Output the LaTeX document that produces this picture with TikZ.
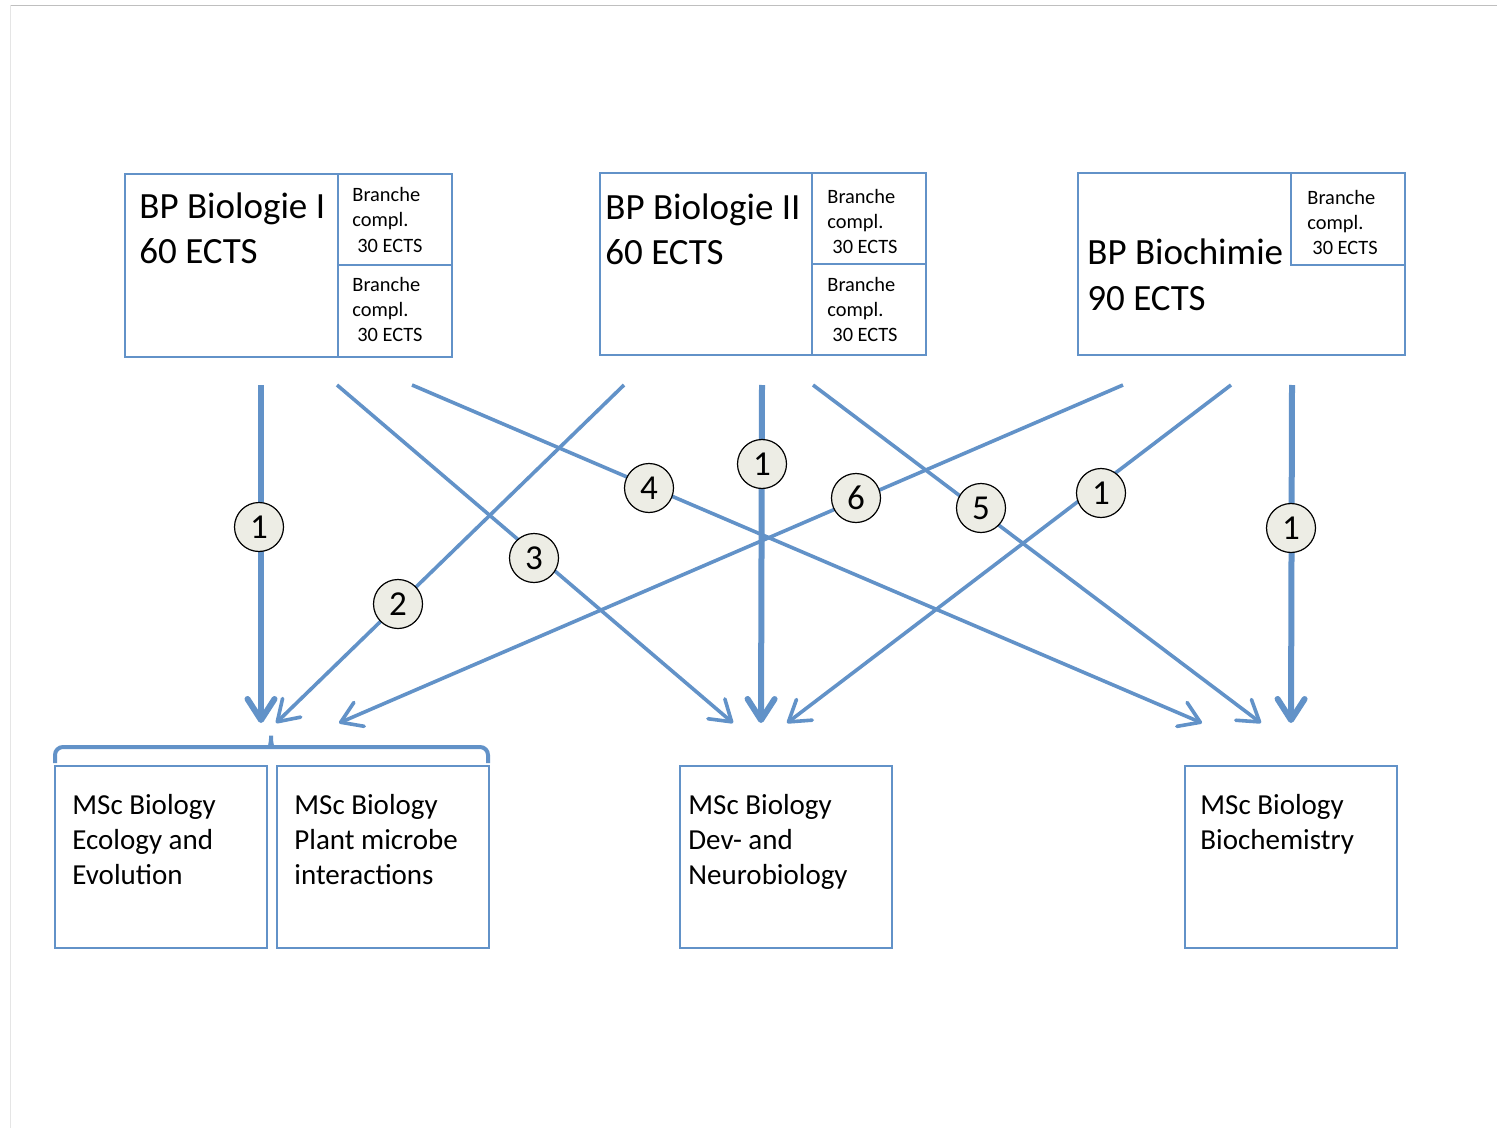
\documentclass[tikz,border=0pt]{standalone}
\usepackage{fontspec}
\setmainfont{Carlito}
\usetikzlibrary{arrows.meta}
\definecolor{lineblue}{RGB}{98,146,200}
\definecolor{circfill}{RGB}{237,237,229}
\begin{document}
\begin{tikzpicture}[x=0.5pt,y=-0.5pt,
  box/.style={draw=lineblue, line width=0.8pt, rectangle, inner sep=0pt, anchor=north west},
  sz/.style 2 args={minimum width=#1*0.5pt, minimum height=#2*0.5pt},
  big/.style={font=\fontsize{18.5}{22}\selectfont, anchor=base west, inner sep=0pt},
  small/.style={font=\fontsize{10.2}{12}\selectfont, anchor=base west, inner sep=0pt},
  msc/.style={font=\fontsize{14.5}{17}\selectfont, anchor=base west, inner sep=0pt},
  num/.style={circle, draw=black, line width=0.6pt, fill=circfill, minimum size=24.5pt, inner sep=0pt, font=\fontsize{17.5}{20}\selectfont},
  thinarrow/.style={draw=lineblue, line width=1.8pt, -{Straight Barb[length=10pt,width=13pt,round]}},
  thickarrow/.style={draw=lineblue, line width=3pt, -{Straight Barb[length=10.5pt,width=13.5pt,round]}},
]
\useasboundingbox (0,0) rectangle (1497,1128);
\fill[white] (0,0) rectangle (1497,1128);
% page frame
\draw[black!25, line width=0.7pt] (10,5.5) -- (1497,5.5);
\draw[black!10, line width=0.7pt] (10.5,5.5) -- (10.5,1128);

% top boxes
\node[box, sz={327}{183}] (b1) at (124,173) {};
\node[box, sz={114}{91}] (b1a) at (337,173) {};
\node[box, sz={114}{92}] (b1b) at (337,264) {};
\node[big] (b1t1) at (139,219) {BP Biologie I};
\node[big] (b1t2) at (139,264) {60 ECTS};
\node[small] (b1a1) at (352,202) {Branche};
\node[small] (b1a2) at (352,227) {compl.};
\node[small] (b1a3) at (357,252.5) {30 ECTS};
\node[small] (b1b1) at (352,292) {Branche};
\node[small] (b1b2) at (352,317) {compl.};
\node[small] (b1b3) at (357,342) {30 ECTS};

\node[box, sz={326}{182}] (b2) at (599,172) {};
\node[box, sz={114}{91}] (b2a) at (811,172) {};
\node[box, sz={114}{91}] (b2b) at (811,263) {};
\node[big] (b2t1) at (605,220) {BP Biologie II};
\node[big] (b2t2) at (605,265) {60 ECTS};
\node[small] (b2a1) at (827,204) {Branche};
\node[small] (b2a2) at (827,229) {compl.};
\node[small] (b2a3) at (832,254) {30 ECTS};
\node[small] (b2b1) at (827,292) {Branche};
\node[small] (b2b2) at (827,317) {compl.};
\node[small] (b2b3) at (832,342) {30 ECTS};

\node[box, sz={327}{182}] (b3) at (1077,172) {};
\node[box, sz={114}{92}] (b3a) at (1290,172) {};
\node[big] (b3t1) at (1087,265) {BP Biochimie};
\node[big] (b3t2) at (1087,311) {90 ECTS};
\node[small] (b3a1) at (1307,204.5) {Branche};
\node[small] (b3a2) at (1307,229.5) {compl.};
\node[small] (b3a3) at (1312,254.5) {30 ECTS};

% bottom boxes
\node[box, sz={212}{182}] (m1) at (54,765) {};
\node[box, sz={212}{182}] (m2) at (276,765) {};
\node[box, sz={212}{182}] (m3) at (679,765) {};
\node[box, sz={212}{182}] (m4) at (1184,765) {};
\node[msc] (m1t1) at (72,814) {MSc Biology};
\node[msc] (m1t2) at (72,849) {Ecology and};
\node[msc] (m1t3) at (72,884) {Evolution};
\node[msc] (m2t1) at (294,814) {MSc Biology};
\node[msc] (m2t2) at (294,849) {Plant microbe};
\node[msc] (m2t3) at (294,884) {interactions};
\node[msc] (m3t1) at (688,814) {MSc Biology};
\node[msc] (m3t2) at (688,849) {Dev- and};
\node[msc] (m3t3) at (688,884) {Neurobiology};
\node[msc] (m4t1) at (1200,814) {MSc Biology};
\node[msc] (m4t2) at (1200,849) {Biochemistry};

% brace
\draw[lineblue, line width=2pt, rounded corners=4pt]
  (55,763) -- (55,747) -- (263,747)
  .. controls (269,747) and (271,743) .. (271,731)
  .. controls (271,743) and (273,747) .. (279,747)
  -- (488,747) -- (488,763);

% arrow end points
\coordinate (s1) at (261,385);  \coordinate (e1) at (261,723);
\coordinate (s2) at (624,385);  \coordinate (e2) at (276,723);
\coordinate (s3) at (337,385);  \coordinate (e3) at (733,723);
\coordinate (s4) at (412,385);  \coordinate (e4) at (1202,723);
\coordinate (s5) at (813,385);  \coordinate (e5) at (1261,723);
\coordinate (s6) at (1123,385); \coordinate (e6) at (339,723);
\coordinate (s7) at (762,385);  \coordinate (e7) at (761,723);
\coordinate (s8) at (1231,385); \coordinate (e8) at (787,723);
\coordinate (s9) at (1292,385); \coordinate (e9) at (1291,723);

\draw[thickarrow] (s1) -- (e1);
\draw[thinarrow] (s2) -- (e2);
\draw[thinarrow] (s3) -- (e3);
\draw[thinarrow] (s4) -- (e4);
\draw[thinarrow] (s5) -- (e5);
\draw[thinarrow] (s6) -- (e6);
\draw[thickarrow] (s7) -- (e7);
\draw[thinarrow] (s8) -- (e8);
\draw[thickarrow] (s9) -- (e9);

% number labels
\node[num] (n1a) at (259,527) {1};
\node[num] (n2) at (398,604) {2};
\node[num] (n3) at (534,558) {3};
\node[num] (n4) at (649,488) {4};
\node[num] (n1b) at (762,464) {1};
\node[num] (n6) at (856,498) {6};
\node[num] (n5) at (981,508) {5};
\node[num] (n1c) at (1101,493) {1};
\node[num] (n1d) at (1291,528) {1};
\end{tikzpicture}
\end{document}
